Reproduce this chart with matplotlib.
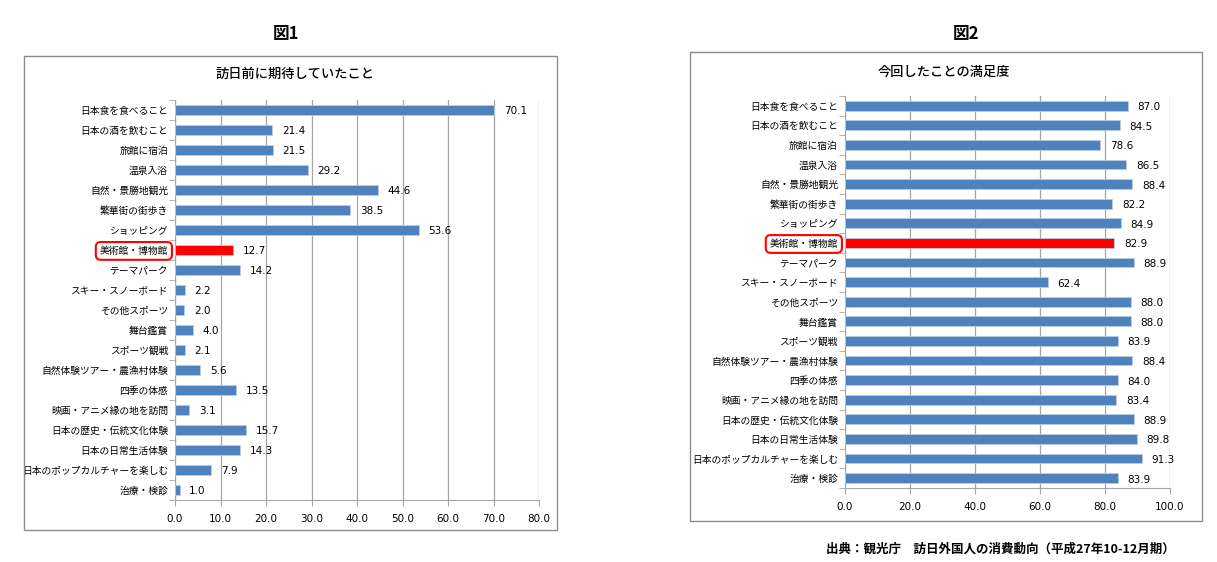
import matplotlib
matplotlib.use('Agg')
import matplotlib.pyplot as plt
from matplotlib.patches import Rectangle
import numpy as np

plt.rcParams['font.family'] = ['Noto Sans CJK JP', 'DejaVu Sans']

categories = ['日本食を食べること', '日本の酒を飲むこと', '旅館に宿泊', '温泉入浴',
              '自然・景勝地観光', '繁華街の街歩き', 'ショッピング', '美術館・博物館',
              'テーマパーク', 'スキー・スノーボード', 'その他スポーツ', '舞台鑑賞',
              'スポーツ観戦', '自然体験ツアー・農漁村体験', '四季の体感',
              '映画・アニメ縁の地を訪問', '日本の歴史・伝統文化体験', '日本の日常生活体験',
              '日本のポップカルチャーを楽しむ', '治療・検診']
expected = [70.1, 21.4, 21.5, 29.2, 44.6, 38.5, 53.6, 12.7, 14.2, 2.2,
            2.0, 4.0, 2.1, 5.6, 13.5, 3.1, 15.7, 14.3, 7.9, 1.0]
satisfaction = [87.0, 84.5, 78.6, 86.5, 88.4, 82.2, 84.9, 82.9, 88.9, 62.4,
                88.0, 88.0, 83.9, 88.4, 84.0, 83.4, 88.9, 89.8, 91.3, 83.9]
highlight = '美術館・博物館'

blue = '#4F81BD'
red = '#FF0000'
grid = '#A6A6A6'

fig = plt.figure(figsize=(12.17, 5.62), dpi=100)

# outer chart frames
fig.patches.append(Rectangle((0.0197, 0.057), 0.438, 0.843, transform=fig.transFigure,
                             fill=False, ec='#8C8C8C', lw=1))
fig.patches.append(Rectangle((0.567, 0.073), 0.4207, 0.8345, transform=fig.transFigure,
                             fill=False, ec='#8C8C8C', lw=1))

fig.text(0.235, 0.94, '図1', ha='center', va='center', fontsize=12, fontweight='bold')
fig.text(0.794, 0.94, '図2', ha='center', va='center', fontsize=12, fontweight='bold')


def draw(ax, values, xmax, step, title, title_x, title_y):
    y = np.arange(len(categories))
    colors = [red if c == highlight else blue for c in categories]
    ax.barh(y, values, height=0.5, color=colors, edgecolor='#B9CDE5', linewidth=0.6, zorder=3)
    ax.set_ylim(len(categories) - 0.5, -0.5)
    ax.set_xlim(0, xmax)
    ticks = np.arange(0, xmax + 0.1, step)
    ax.set_xticks(ticks)
    ax.set_xticklabels([f'{v:.1f}' for v in ticks], fontsize=7.5, fontfamily=['DejaVu Sans'])
    ax.set_yticks(y)
    ax.set_yticklabels(categories, fontsize=7)
    ax.set_yticks(np.arange(-0.5, len(categories), 1), minor=True)
    ax.tick_params(axis='y', which='major', length=0, pad=5)
    ax.tick_params(axis='y', which='minor', length=4, color=grid)
    ax.tick_params(axis='x', length=4, color=grid, pad=6)
    ax.grid(axis='x', color=grid, lw=0.9, zorder=0)
    for s in ['top', 'right']:
        ax.spines[s].set_visible(False)
    for s in ['left', 'bottom']:
        ax.spines[s].set_color(grid)
    for yi, v in zip(y, values):
        ax.annotate(f'{v:.1f}', (v, yi), xytext=(7, -1), textcoords='offset points',
                    va='center', ha='left', fontsize=7.5, fontfamily=['DejaVu Sans'],
                    zorder=4)
    for lab in ax.get_yticklabels():
        if lab.get_text() == highlight:
            lab.set_bbox(dict(boxstyle='round,pad=0.4,rounding_size=0.5', fc='white',
                              ec=red, lw=1.5))
    fig.text(title_x, title_y, title, ha='center', va='center', fontsize=9.5,
             fontweight='medium')


ax1 = fig.add_axes([0.1438, 0.1103, 0.2991, 0.712])
draw(ax1, expected, 80, 10, '訪日前に期待していたこと', 0.2424, 0.868)

ax2 = fig.add_axes([0.6943, 0.1317, 0.2671, 0.6975])
draw(ax2, satisfaction, 100, 20, '今回したことの満足度', 0.7757, 0.872)

fig.text(0.8217, 0.022, '出典：観光庁　訪日外国人の消費動向（平成27年10-12月期）', ha='center',
         va='center', fontsize=9, fontweight='bold')

fig.savefig('out.png', dpi=100)
